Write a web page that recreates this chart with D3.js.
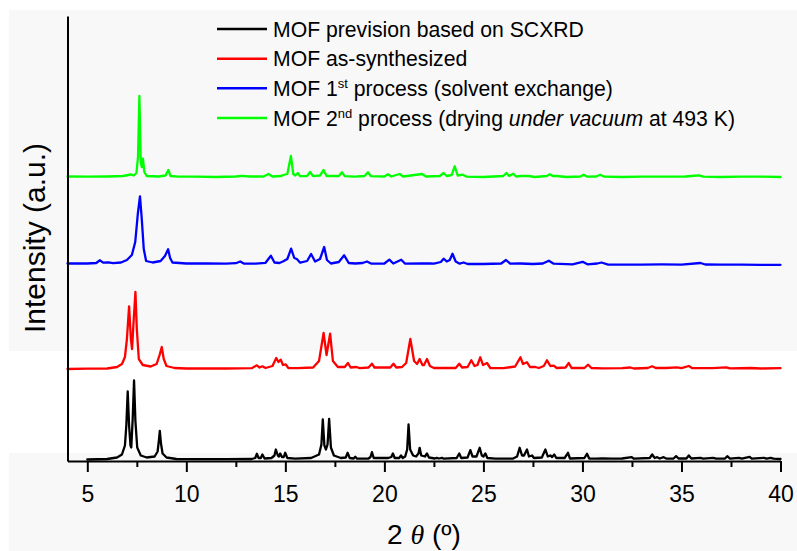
<!DOCTYPE html>
<html>
<head>
<meta charset="utf-8">
<script src="https://cdn.jsdelivr.net/npm/d3@7/dist/d3.min.js"></script>
<style>
  html, body { margin: 0; padding: 0; background: #fff; }
  svg { display: block; font-family: "Liberation Sans", Arial, Helvetica, sans-serif; }
</style>
</head>
<body>
<svg id="chart" width="797" height="551"></svg>
<script>
// Powder XRD patterns, 2θ (degrees) vs intensity (a.u.), each relative to its own baseline.
const scxrd = [
  [5.0,0],[6.0,0.5],[6.5,2],[6.75,5],[6.9,14],[6.97,34],[7.04,68],[7.11,34],[7.18,14],[7.22,12],
  [7.29,40],[7.36,79],[7.43,38],[7.52,12],[7.7,4],[8.0,2],[8.4,3],[8.55,8],[8.62,20],[8.66,28.6],
  [8.72,16],[8.8,6],[9.0,2],[9.5,0.5],[10,0.3],[12,0.3],[13.3,0.5],[13.48,1.5],[13.56,5.7],[13.65,1.5],
  [13.76,1.5],[13.84,5],[13.95,1],[14.3,1.5],[14.45,4],[14.52,10],[14.62,4],[14.68,3],[14.74,6],[14.83,2.5],
  [14.92,2.5],[14.99,6.7],[15.1,1.5],[15.5,0.8],[16.3,1.5],[16.7,5],[16.82,15],[16.89,40],[16.97,14],[17.05,10],
  [17.13,15],[17.21,40.7],[17.3,12],[17.45,4],[17.8,1.5],[18.05,2],[18.14,6.7],[18.25,1.5],[18.45,1],[18.53,2.7],
  [18.62,0.8],[19.2,1],[19.3,2.5],[19.37,7.3],[19.46,1.5],[20.2,1.5],[20.35,2.5],[20.43,6],[20.52,1.5],[20.75,1.5],
  [20.84,4],[20.93,1.5],[21.05,3],[21.15,10],[21.22,35],[21.3,10],[21.45,4],[21.6,3],[21.72,6],[21.78,11.7],
  [21.86,4],[22.05,3],[22.15,6],[22.25,2],[22.55,1],[22.64,1.7],[22.75,1],[22.91,1.7],[23.0,0.8],[23.65,1.5],
  [23.78,6],[23.88,1.5],[24.2,2],[24.34,9.3],[24.45,3],[24.65,3],[24.81,11.7],[24.92,4],[25.0,3],[25.1,6],
  [25.2,1.5],[25.6,0.8],[26.5,1],[26.7,3],[26.83,11.7],[26.95,4],[27.05,4],[27.2,10],[27.3,3],[27.46,4],
  [27.55,1.5],[27.95,2],[28.13,10],[28.25,3],[28.38,4],[28.47,2.5],[28.58,5],[28.68,1.5],[29.1,1.5],[29.27,6.7],
  [29.37,1],[30.1,1.5],[30.23,5.7],[30.34,1],[30.7,0.8],[31.0,1],[31.5,0.8],[32.0,1],[32.49,2.3],[32.6,0.8],
  [33.4,1.5],[33.52,5],[33.65,1.5],[33.77,2.3],[33.9,1],[34.1,2.3],[34.25,0.8],[34.6,1],[34.73,3.3],[34.85,1],
  [35.25,1],[35.37,4],[35.5,1],[35.96,1.7],[36.1,0.8],[36.6,1.7],[36.75,0.8],[37.2,1],[37.31,3.3],[37.45,0.8],
  [37.9,1.7],[38.05,0.8],[38.44,2.7],[38.55,0.8],[39.16,1.7],[39.3,0.8],[39.5,1.7],[39.65,0.8],[40,0.5]
];

const asSynthesized = [
  [4.0,0],[5.0,0.3],[6.0,0.5],[6.5,2],[6.75,5],[6.9,12],[7.0,30],[7.11,62.7],[7.2,30],[7.26,20],
  [7.33,45],[7.43,77],[7.5,40],[7.6,10],[7.8,4],[8.2,2.5],[8.5,5],[8.65,14],[8.76,22],[8.86,10],
  [9.0,3],[9.4,1],[10,0.5],[12,0.5],[13.3,0.8],[13.56,3.7],[13.7,1.5],[13.84,2.7],[14.0,1],[14.35,3],
  [14.54,11],[14.65,7],[14.77,9.3],[14.88,4],[15.02,4.7],[15.15,1],[15.6,0.8],[16.4,1.5],[16.7,8],[16.93,36],
  [17.08,14],[17.26,35.3],[17.4,8],[17.65,2],[18.0,2],[18.16,6],[18.3,1.5],[18.58,2],[18.75,0.8],[19.2,1.5],
  [19.37,5.3],[19.5,1.5],[20.3,1.5],[20.46,5.3],[20.6,1.5],[20.89,2],[21.1,6],[21.31,30],[21.5,8],[21.65,5],
  [21.78,10],[21.92,4],[22.0,4],[22.15,10],[22.3,3],[22.5,1],[22.82,1],[23.6,1],[23.78,5.3],[23.92,1.5],
  [24.2,2],[24.39,8.7],[24.55,3],[24.7,4],[24.84,11.7],[24.98,4],[25.18,6],[25.35,1],[26.0,0.8],[26.6,2.5],
  [26.87,11.7],[27.0,5],[27.2,6.7],[27.35,2],[27.62,2],[27.8,1],[28.05,3],[28.21,8.7],[28.38,3],[28.55,3.3],
  [28.7,1],[29.15,1.5],[29.31,6],[29.45,1],[30.1,1],[30.29,4.3],[30.45,1],[31,0.7],[32,0.8],[32.42,1.5],
  [32.6,0.5],[33.3,1],[33.52,2.7],[33.7,1],[34.2,1],[34.78,1.7],[35.0,0.8],[35.37,3],[35.55,0.8],[36.55,0.8],
  [37.27,1.7],[37.45,0.6],[38.49,1],[39.0,0.5],[40,0.8]
];

const solventExchanged = [
  [4.0,0.5],[5.0,0.5],[5.45,1],[5.64,3.7],[5.8,1.3],[6.06,1.7],[6.3,0.8],[6.7,1.5],[7.0,4],[7.25,9],
  [7.42,22],[7.55,50],[7.66,67.7],[7.75,45],[7.85,15],[7.97,3],[8.3,1.5],[8.7,3],[8.92,8],[9.08,14.7],
  [9.18,6],[9.3,1.5],[10,0.5],[11,0.5],[12,0.3],[12.5,0.8],[12.72,2.5],[12.9,0.5],[13.5,0.3],[14.0,1.2],
  [14.27,8.3],[14.45,1.5],[14.7,1],[14.9,2.7],[15.1,5],[15.29,15.3],[15.45,6],[15.58,5],[15.75,1.3],[16.1,3],
  [16.3,10],[16.5,2.5],[16.75,5],[16.96,17],[17.1,4],[17.3,0.5],[17.7,2],[17.97,8.7],[18.2,1],[18.53,0.5],
  [18.9,1],[19.12,2.5],[19.35,0.3],[20.0,0.5],[20.25,4.3],[20.45,0.5],[20.85,4.3],[21.05,0.3],[21.9,0.5],[22.32,0.5],
  [22.5,0.3],[22.85,2],[22.99,5.3],[23.15,2.5],[23.3,4],[23.44,10.3],[23.6,2.5],[23.8,0.3],[24.0,1.5],[24.2,0],
  [25,0],[25.9,0.5],[26.14,4],[26.35,0.3],[26.87,0.5],[27.5,0],[28.0,0.5],[28.3,3.3],[28.55,0.3],[29.5,-0.3],
  [30.01,2.2],[30.25,-0.3],[30.75,0.5],[30.96,1.5],[31.3,-0.6],[32,-0.6],[33,-0.6],[34,-0.4],[35,-0.6],[35.96,1],
  [36.2,-0.5],[37,-0.7],[38,-0.6],[39,-0.8],[40,-0.8]
];

const vacuumDried = [
  [4.0,0.5],[5,0.3],[6,0.5],[6.8,1],[7.2,2.5],[7.35,1.5],[7.48,4],[7.56,20],[7.63,81],[7.7,15],
  [7.75,10],[7.81,18.3],[7.88,5],[8.0,1],[8.6,0.5],[8.95,1.5],[9.09,7],[9.2,1],[9.6,0.3],[10.5,0.3],
  [11.5,0],[12.5,0.5],[12.8,1.2],[13.2,0.5],[13.9,0.5],[14.15,3],[14.35,0.5],[14.8,1],[14.9,2],[15.1,3],
  [15.28,21],[15.4,3],[15.5,1.5],[15.63,4],[15.75,0.8],[16.1,1],[16.25,5],[16.4,0.8],[16.75,1.5],[16.93,7],
  [17.08,1],[17.7,1],[17.86,4.7],[18.0,0.8],[18.5,0.3],[19.0,1],[19.17,4.7],[19.32,0.8],[20.0,0.5],[20.18,2.7],
  [20.35,0.5],[20.77,3],[20.95,0.5],[21.9,3],[22.1,0.5],[22.8,1],[22.99,4],[23.15,1],[23.4,2],[23.55,10.7],
  [23.7,1.5],[23.97,2.3],[24.15,0.3],[25,0],[26.0,1],[26.16,4],[26.3,1],[26.5,3.3],[26.65,0.5],[26.87,1],
  [27.29,1],[27.6,0],[28.2,1],[28.35,2.7],[28.5,1],[28.69,1],[29.2,0],[29.9,0.5],[30.06,2.3],[30.25,0.3],
  [30.7,0.5],[30.9,2.3],[31.1,0.3],[32,0],[33,0.3],[34,0.3],[35.2,0.5],[35.5,1],[35.9,1.7],[36.1,0.3],
  [37,0],[38,0.3],[39,0.3],[40,0]
];

// Vertical stacking offset for each pattern (a.u.)
const stackOffsets = [1.5, 92, 197, 284];

const legendLabels = [
  "MOF prevision based on SCXRD",
  "MOF as-synthesized",
  "MOF 1st process (solvent exchange)",
  "MOF 2nd process (drying under vacuum at 493 K)"
];

const majorTicks = [5, 10, 15, 20, 25, 30, 35, 40];
const minorTicks = [7.5, 12.5, 17.5, 22.5, 27.5, 32.5, 37.5];
const yTitle = "Intensity (a.u.)";

// ---------------------------------------------------------------------------
const patterns = [scxrd, asSynthesized, solventExchanged, vacuumDried];
const colors = ["#000000", "#ff0000", "#0000ff", "#00ff00"];

const svg = d3.select("#chart");

// faint page tint
svg.append("rect").attr("x", 9).attr("y", 10).attr("width", 788).attr("height", 341).attr("fill", "#f8f8f8");
svg.append("rect").attr("x", 9).attr("y", 453).attr("width", 788).attr("height", 98).attr("fill", "#f8f8f8");

const x = d3.scaleLinear().domain([4, 40]).range([67.5, 780.5]);
const y = d3.scaleLinear().domain([0, 445]).range([461, 16]);

// traces, drawn bottom to top
patterns.forEach((data, i) => {
  const line = d3.line()
    .x(d => x(d[0]))
    .y(d => y(d[1] + stackOffsets[i]));
  svg.append("path")
    .datum(data)
    .attr("d", line)
    .attr("fill", "none")
    .attr("stroke", colors[i])
    .attr("stroke-width", 2.3)
    .attr("stroke-linejoin", "round")
    .attr("stroke-linecap", "round");
});

// x axis: major ticks with labels, minor ticks between
const xAxis = svg.append("g").attr("transform", `translate(0,${y(0)})`);
xAxis.call(d3.axisBottom(x).tickValues(majorTicks).tickSize(11).tickSizeOuter(0).tickFormat(d3.format("d")));
xAxis.append("g").call(d3.axisBottom(x).tickValues(minorTicks).tickSize(6).tickSizeOuter(0).tickFormat(""));
xAxis.selectAll("path.domain").attr("stroke", "#000").attr("stroke-width", 2);
xAxis.selectAll(".tick line").attr("stroke", "#000").attr("stroke-width", 2);
xAxis.selectAll(".tick text")
  .attr("fill", "#000")
  .attr("font-size", 23)
  .attr("font-family", "'Liberation Sans', Arial, sans-serif")
  .attr("dy", null)
  .attr("y", 40.5);
xAxis.selectAll("g > g > path.domain").remove();

// y axis line only
const yAxis = svg.append("g").attr("transform", `translate(${x(4)},0)`);
yAxis.call(d3.axisLeft(y).tickValues([]).tickSizeOuter(0));
yAxis.select("path.domain").attr("stroke", "#000").attr("stroke-width", 2);

// axis titles
const xt = svg.append("text")
  .attr("x", (x(4) + x(40)) / 2)
  .attr("y", 544)
  .attr("text-anchor", "middle")
  .attr("font-size", 28)
  .attr("fill", "#000");
xt.append("tspan").text("2 ");
xt.append("tspan").attr("font-style", "italic").attr("font-family", "'Liberation Serif', 'Times New Roman', serif").text("θ");
xt.append("tspan").text(" (º)");

svg.append("text")
  .attr("transform", "translate(45,238) rotate(-90)")
  .attr("text-anchor", "middle")
  .attr("font-size", 30)
  .attr("fill", "#000")
  .text(yTitle);

// legend
const legend = svg.append("g");
const rowY = [29, 58.7, 88.3, 118];
legendLabels.forEach((label, i) => {
  legend.append("line")
    .attr("x1", 217).attr("x2", 267)
    .attr("y1", rowY[i]).attr("y2", rowY[i])
    .attr("stroke", colors[i]).attr("stroke-width", 2.5);
  const t = legend.append("text")
    .attr("x", 273).attr("y", rowY[i] + 7.5)
    .attr("font-size", 21.2).attr("fill", "#000");
  if (i === 2) {
    t.append("tspan").text("MOF 1");
    t.append("tspan").attr("font-size", 13).attr("dy", -8).text("st");
    t.append("tspan").attr("dy", 8).text(" process (solvent exchange)");
  } else if (i === 3) {
    t.append("tspan").text("MOF 2");
    t.append("tspan").attr("font-size", 13).attr("dy", -8).text("nd");
    t.append("tspan").attr("dy", 8).text(" process (drying ");
    t.append("tspan").attr("font-style", "italic").text("under vacuum");
    t.append("tspan").text(" at 493 K)");
  } else {
    t.text(label);
  }
});
</script>
</body>
</html>
